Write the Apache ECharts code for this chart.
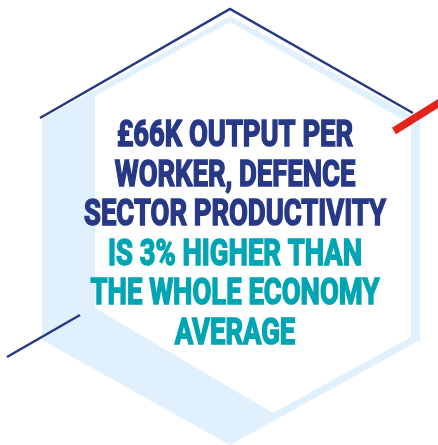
<!DOCTYPE html>
<html>
<head>
<meta charset="utf-8">
<script src="https://cdn.jsdelivr.net/npm/echarts@6/dist/echarts.min.js"></script>
<style>
html,body{margin:0;padding:0;background:#fff;}
#c{width:438px;height:445px;}
</style>
</head>
<body>
<div id="c"></div>
<script>
// Text content
var headlineLines = ['£66K OUTPUT PER', 'WORKER, DEFENCE', 'SECTOR PRODUCTIVITY'];
var highlightLines = ['IS 3% HIGHER THAN', 'THE WHOLE ECONOMY', 'AVERAGE'];

var NAVY = '#263886';
var TEAL = '#00a5b3';
var LIGHT = '#e0f1fd';
var RED = '#e3241b';

var FONT_FAMILY = 'Roboto';
var FONT_SIZE = 36;
var FONT = 'bold ' + FONT_SIZE + 'px ' + FONT_FAMILY;

// horizontal condensing so that the widest line fits its target width
var cv = document.createElement('canvas').getContext('2d');
cv.font = FONT;
var widest = cv.measureText('SECTOR PRODUCTIVITY').width + 1.5;
var sx = 303 / widest;

var chart = echarts.init(document.getElementById('c'), null, {renderer: 'canvas'});

var graphics = [];
// light blue hexagon
graphics.push({type: 'polygon', shape: {points: [[230,16],[420,120],[420,340],[230,445],[42,340],[42,119]]}, style: {fill: LIGHT}, silent: true});
// white inner hexagon
graphics.push({type: 'polygon', shape: {points: [[230,22],[411,124],[411,337],[273,413],[95,308],[95,96]]}, style: {fill: '#ffffff'}, silent: true});
// navy outline segments
graphics.push({type: 'polyline', shape: {points: [[40,118],[230,9],[413,113]]}, style: {stroke: NAVY, lineWidth: 2.5, fill: null}, silent: true});
graphics.push({type: 'line', shape: {x1: 7, y1: 357, x2: 80, y2: 315}, style: {stroke: NAVY, lineWidth: 2.5}, silent: true});
// red accent
graphics.push({type: 'line', shape: {x1: 394, y1: 131, x2: 442, y2: 101}, style: {stroke: RED, lineWidth: 7.5}, silent: true});

var centersY = [136, 175.5, 215, 255, 294, 333.5];
var allLines = headlineLines.concat(highlightLines);
allLines.forEach(function (t, i) {
  var col = i < headlineLines.length ? NAVY : TEAL;
  graphics.push({
    type: 'text',
    x: 235,
    y: centersY[i] + 1,
    scaleX: sx,
    style: {
      text: t,
      font: FONT,
      fill: col,
      stroke: col,
      lineWidth: 1.6,
      textAlign: 'center',
      textVerticalAlign: 'middle'
    },
    silent: true
  });
});

chart.setOption({
  animation: false,
  graphic: {elements: graphics}
});
</script>
</body>
</html>
